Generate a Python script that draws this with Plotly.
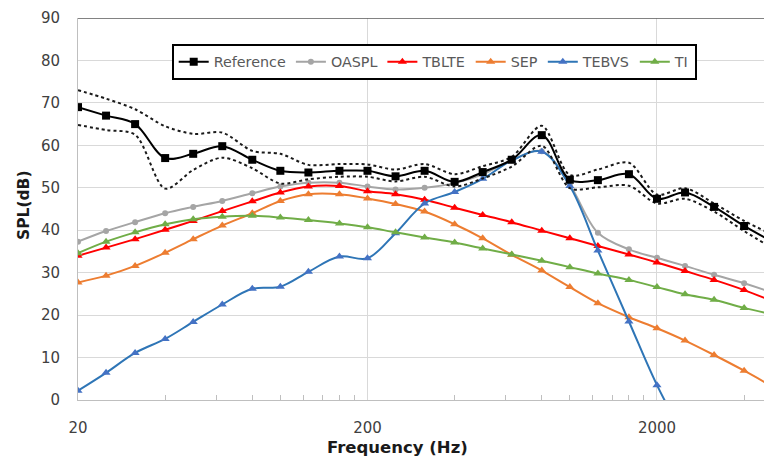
import plotly.graph_objects as go

freq = [20, 25, 31.5, 40, 50, 63, 80, 100, 125, 160, 200, 250, 315, 400, 500,
        630, 800, 1000, 1250, 1600, 2000, 2500, 3150, 4000, 5000]

reference = [69.0, 67.0, 65.0, 57.0, 58.0, 59.8, 56.6, 54.0, 53.6, 54.0, 54.0, 52.7, 54.0,
             51.4, 53.7, 56.6, 62.4, 51.9, 51.8, 53.2, 47.4, 48.9, 45.5, 41.0, 37.3]
ref_upper = [73.0, 71.0, 68.5, 64.5, 62.7, 63.0, 58.7, 58.0, 55.4, 55.6, 55.5, 54.3, 55.6,
             53.2, 55.1, 57.3, 64.6, 53.0, 54.3, 55.9, 48.4, 49.9, 46.3, 42.2, 39.0]
ref_lower = [64.8, 63.6, 62.5, 49.8, 54.2, 57.1, 54.6, 51.0, 52.0, 52.6, 52.6, 51.5, 52.6,
             50.3, 52.2, 55.0, 59.9, 49.9, 50.1, 50.5, 46.3, 47.4, 44.4, 39.8, 35.8]
oaspl = [37.3, 39.8, 41.9, 44.0, 45.5, 46.9, 48.7, 50.3, 51.2, 51.2, 50.3, 49.6, 50.0,
         51.1, 53.2, 56.5, 58.6, 50.7, 39.4, 35.5, 33.5, 31.6, 29.5, 27.5, 25.3]
tblte = [34.0, 35.9, 37.9, 40.1, 42.2, 44.5, 46.8, 48.9, 50.3, 50.4, 49.2, 48.5, 47.2,
         45.3, 43.6, 41.9, 39.9, 38.1, 36.3, 34.3, 32.4, 30.4, 28.3, 25.9, 23.3]
sep = [27.7, 29.3, 31.6, 34.7, 37.9, 41.1, 44.0, 46.9, 48.5, 48.5, 47.5, 46.2, 44.4,
       41.4, 38.1, 34.2, 30.5, 26.6, 22.8, 19.5, 16.9, 14.0, 10.6, 6.9, 3.2]
tebvs = [2.2, 6.4, 11.1, 14.4, 18.4, 22.5, 26.2, 26.7, 30.2, 33.8, 33.4, 39.3, 46.3,
         49.0, 52.1, 56.4, 58.5, 50.4, 35.2, 18.5, 3.5, -9.0, None, None, None]
ti = [34.6, 37.3, 39.5, 41.4, 42.6, 43.2, 43.4, 43.0, 42.4, 41.6, 40.7, 39.5, 38.3,
      37.1, 35.7, 34.3, 32.8, 31.3, 29.8, 28.3, 26.6, 24.9, 23.6, 21.7, 20.2]

x_major = [20, 200, 2000]
x_minor = [40, 60, 80, 100, 120, 140, 160, 180,
           400, 600, 800, 1000, 1200, 1400, 1600, 1800, 4000]

FONT = "DejaVu Sans"

fig = go.Figure()

def series(name, y, color, symbol, size, rank, mcolor=None, width=2):
    fig.add_trace(go.Scatter(
        x=freq, y=y, name=name, mode="lines+markers",
        line=dict(color=color, width=width, shape="spline", smoothing=1),
        marker=dict(symbol=symbol, size=size, color=mcolor or color),
        legendrank=rank, connectgaps=False))

series("OASPL", oaspl, "#a5a5a5", "circle", 6, 2)
series("TBLTE", tblte, "#ff0000", "triangle-up", 8, 3)
series("SEP", sep, "#ed7d31", "triangle-up", 8, 4)
series("TEBVS", tebvs, "#2e75b6", "triangle-up", 8, 5, mcolor="#4472c4")
series("TI", ti, "#70ad47", "triangle-up", 8, 6)

for yy in (ref_upper, ref_lower):
    fig.add_trace(go.Scatter(
        x=freq, y=yy, mode="lines", showlegend=False, hoverinfo="skip",
        line=dict(color="#1a1a1a", width=2, dash="dot", shape="spline", smoothing=0.85)))

series("Reference", reference, "#000000", "square", 8, 1)

fig.add_shape(type="line", xref="paper", yref="y", x0=0, x1=1, y0=90, y1=90,
              line=dict(color="#595959", width=1.5))

fig.update_layout(
    width=764, height=462,
    margin=dict(l=78, r=0, t=18, b=62),
    paper_bgcolor="white", plot_bgcolor="white",
    font=dict(family=FONT, size=15, color="#404040"),
    showlegend=True,
    legend=dict(orientation="h", x=0.1366, y=0.932, xanchor="left", yanchor="top",
                bgcolor="white", bordercolor="#000000", borderwidth=2,
                font=dict(family=FONT, size=14.3, color="#595959"),
                itemwidth=30),
    xaxis=dict(type="log", range=[1.30103, 3.6707],
               tickmode="array", tickvals=x_major, ticktext=[str(v) for v in x_major],
               showgrid=True, gridcolor="#d9d9d9", gridwidth=1,
               showline=True, linecolor="#bfbfbf", linewidth=1,
               ticks="", ticklabelstandoff=14, zeroline=False,
               tickfont=dict(family=FONT, size=15, color="#404040"),
               minor=dict(tickmode="array", tickvals=x_minor, ticks="inside",
                          ticklen=5, tickcolor="#bfbfbf", showgrid=False)),
    yaxis=dict(range=[0, 90], tickmode="linear", tick0=0, dtick=10,
               showgrid=True, gridcolor="#d9d9d9", gridwidth=1,
               showline=True, linecolor="#bfbfbf", linewidth=1,
               ticks="", ticklabelstandoff=14, zeroline=False,
               tickfont=dict(family=FONT, size=15, color="#404040")),
    annotations=[
        dict(text="<b>Frequency (Hz)</b>", xref="paper", yref="paper",
             x=(397 - 78) / 686, y=(400 - 448) / 382, xanchor="center", yanchor="middle",
             showarrow=False, font=dict(family=FONT, size=16.5, color="#1a1a1a")),
        dict(text="<b>SPL(dB)</b>", xref="paper", yref="paper",
             x=(24 - 78) / 686, y=(400 - 205) / 382, xanchor="center", yanchor="middle",
             textangle=-90, showarrow=False,
             font=dict(family=FONT, size=15.5, color="#1a1a1a")),
    ],
)

fig.write_html("out.html")
